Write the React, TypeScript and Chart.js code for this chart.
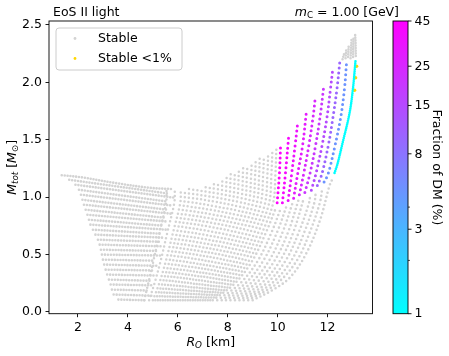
import React, { useEffect, useRef } from "react";
import { Chart, registerables } from "chart.js";

Chart.register(...registerables);

type P = [number, number];

// ---------- axes ----------
const X_MIN = 0.84;
const X_MAX = 13.8;
const Y_MIN = -0.017;
const Y_MAX = 2.534;
const xTicks = [2, 4, 6, 8, 10, 12];
const yTicks = [0, 0.5, 1, 1.5, 2, 2.5];
const cbarTicks = [1, 3, 8, 15, 25, 45];
const cbarMinorTicks = [2, 4];
const CBAR_MAX = 45;

// ---------- left part: rows of configurations (R, M) ----------
const topRow: P[] = [[1.35, 1.19], [2.2, 1.17], [3.56, 1.12], [4.88, 1.08], [5.75, 1.07]];
const rowStartR = [1.65, 1.9, 2.04, 2.12, 2.18, 2.24, 2.31, 2.38, 2.44, 2.5, 2.6, 2.7, 2.8, 2.87, 2.92, 2.96, 3.0, 3.05, 3.11, 3.17, 3.24, 3.31, 3.36, 3.43, 3.62];
const rowStartM = [1.15, 1.107, 1.063, 1.02, 0.976, 0.933, 0.889, 0.846, 0.802, 0.759, 0.715, 0.672, 0.628, 0.585, 0.541, 0.498, 0.454, 0.411, 0.367, 0.324, 0.28, 0.237, 0.193, 0.15, 0.106];
const rowEndR = [5.62, 5.82, 5.6, 5.78, 5.56, 5.71, 5.47, 5.62, 5.39, 5.55, 5.32, 5.47, 5.24, 5.39, 5.16, 5.31, 5.08, 5.23, 5.0, 5.13, 4.9, 5.03, 4.82, 4.95, 4.72];
const rowEndM = [1.03, 0.995, 0.96, 0.925, 0.89, 0.855, 0.82, 0.785, 0.75, 0.715, 0.68, 0.645, 0.61, 0.57, 0.53, 0.49, 0.445, 0.4, 0.36, 0.315, 0.27, 0.23, 0.185, 0.14, 0.1];

// ---------- middle part: gray sequences (high DM fraction) ----------
const grayArcs: P[][] = [
  [[7.3, 0.1], [8.18, 0.25], [8.86, 0.45], [9.4, 0.7], [9.82, 0.95], [9.91, 1.2], [9.95, 1.43]],
  [[7.2, 0.1], [8.05, 0.25], [8.71, 0.45], [9.24, 0.7], [9.66, 0.95], [9.75, 1.2], [9.79, 1.41]],
  [[7.1, 0.1], [7.92, 0.25], [8.57, 0.45], [9.09, 0.7], [9.5, 0.95], [9.59, 1.2], [9.62, 1.38]],
  [[7.0, 0.1], [7.79, 0.25], [8.42, 0.45], [8.93, 0.7], [9.33, 0.95], [9.42, 1.2], [9.45, 1.36]],
  [[6.9, 0.1], [7.67, 0.25], [8.28, 0.45], [8.78, 0.7], [9.17, 0.95], [9.26, 1.2], [9.28, 1.34]],
  [[6.8, 0.1], [7.54, 0.25], [8.13, 0.45], [8.62, 0.7], [9.01, 0.95], [9.1, 1.2], [9.12, 1.32]],
  [[6.7, 0.1], [7.42, 0.25], [7.99, 0.45], [8.47, 0.7], [8.85, 0.95], [8.94, 1.2], [8.96, 1.3]],
  [[6.6, 0.1], [7.29, 0.25], [7.84, 0.45], [8.31, 0.7], [8.69, 0.95], [8.77, 1.2], [8.79, 1.28]],
  [[6.5, 0.1], [7.16, 0.25], [7.7, 0.45], [8.16, 0.7], [8.53, 0.95], [8.62, 1.26]],
  [[6.4, 0.1], [7.03, 0.25], [7.55, 0.45], [8.0, 0.7], [8.36, 0.95], [8.45, 1.24]],
  [[6.3, 0.1], [6.9, 0.25], [7.4, 0.45], [7.85, 0.7], [8.2, 0.95], [8.29, 1.22]],
  [[6.2, 0.1], [6.78, 0.25], [7.26, 0.45], [7.69, 0.7], [8.04, 0.95], [8.12, 1.2]],
  [[6.1, 0.1], [6.66, 0.25], [7.12, 0.45], [7.54, 0.7], [7.88, 0.95], [7.96, 1.18]],
  [[6.0, 0.1], [6.53, 0.25], [6.98, 0.45], [7.38, 0.7], [7.72, 0.95], [7.79, 1.16]],
  [[5.9, 0.1], [6.4, 0.25], [6.84, 0.45], [7.22, 0.7], [7.56, 0.95], [7.62, 1.14]],
  [[5.8, 0.1], [6.27, 0.25], [6.69, 0.45], [7.06, 0.7], [7.39, 0.95], [7.45, 1.12]],
  [[5.7, 0.1], [6.15, 0.25], [6.55, 0.45], [6.9, 0.7], [7.23, 0.95], [7.29, 1.11]],
  [[5.6, 0.1], [6.02, 0.25], [6.4, 0.45], [6.75, 0.7], [7.07, 0.95], [7.12, 1.1]],
  [[5.5, 0.1], [5.89, 0.25], [6.26, 0.45], [6.6, 0.7], [6.91, 0.95], [6.96, 1.09]],
  [[5.4, 0.1], [5.76, 0.25], [6.11, 0.45], [6.44, 0.7], [6.75, 0.95], [6.79, 1.08]],
  [[5.3, 0.1], [5.64, 0.25], [5.97, 0.45], [6.29, 0.7], [6.59, 0.95], [6.62, 1.075]],
  [[5.2, 0.1], [5.51, 0.25], [5.82, 0.45], [6.13, 0.7], [6.42, 0.95], [6.45, 1.07]],
  [[5.1, 0.1], [5.39, 0.25], [5.68, 0.45], [5.98, 0.7], [6.26, 0.95], [6.29, 1.065]],
  [[5.0, 0.1], [5.26, 0.25], [5.53, 0.45], [5.82, 0.7], [6.1, 0.95], [6.12, 1.06]],
  [[4.85, 0.1], [5.07, 0.25], [5.32, 0.45], [5.59, 0.7], [5.86, 0.95], [5.88, 1.06]],
  [[4.65, 0.1], [4.82, 0.25], [5.03, 0.45], [5.28, 0.7], [5.53, 0.95], [5.55, 1.07]],
];

// ---------- right part: sequences with DM fraction (%) ----------
const dmFractions = [45, 40, 35, 30, 25, 20, 15, 10, 5, 1];
const arcLowerParts: P[][] = [
  [[7.4, 0.1], [8.3, 0.25], [9.0, 0.45], [9.55, 0.7], [9.92, 0.9]],
  [[7.58, 0.1], [8.51, 0.25], [9.22, 0.45], [9.77, 0.7], [10.14, 0.91]],
  [[7.76, 0.1], [8.72, 0.25], [9.44, 0.45], [9.99, 0.7], [10.37, 0.93]],
  [[7.93, 0.1], [8.93, 0.25], [9.67, 0.45], [10.21, 0.7], [10.6, 0.95]],
  [[8.11, 0.1], [9.14, 0.25], [9.89, 0.45], [10.43, 0.7], [10.83, 0.97]],
  [[8.29, 0.1], [9.36, 0.25], [10.11, 0.45], [10.64, 0.7], [11.05, 0.99]],
  [[8.47, 0.1], [9.57, 0.25], [10.33, 0.45], [10.86, 0.7], [11.26, 0.95], [11.3, 1.01]],
  [[8.64, 0.1], [9.78, 0.25], [10.56, 0.45], [11.08, 0.7], [11.47, 0.95], [11.53, 1.05]],
  [[8.82, 0.1], [9.99, 0.25], [10.78, 0.45], [11.3, 0.7], [11.69, 0.95], [11.79, 1.08]],
  [[9.0, 0.1], [9.8, 0.19], [10.5, 0.3], [11.15, 0.51], [11.7, 0.8], [12.08, 1.1], [12.2, 1.16]],
];
const arcColorParts: P[][] = [
  [[9.98, 0.95], [10.07, 1.2], [10.12, 1.46]],
  [[10.19, 0.95], [10.31, 1.2], [10.45, 1.55]],
  [[10.42, 0.97], [10.56, 1.2], [10.7, 1.45], [10.8, 1.64]],
  [[10.64, 0.99], [10.8, 1.2], [11.0, 1.45], [11.15, 1.74]],
  [[10.87, 1.02], [11.04, 1.2], [11.25, 1.45], [11.42, 1.7], [11.5, 1.85]],
  [[11.09, 1.04], [11.29, 1.2], [11.52, 1.45], [11.7, 1.7], [11.85, 1.97]],
  [[11.35, 1.06], [11.53, 1.2], [11.78, 1.45], [11.98, 1.7], [12.12, 1.95], [12.2, 2.1]],
  [[11.59, 1.1], [11.77, 1.2], [12.03, 1.45], [12.22, 1.7], [12.38, 1.95], [12.5, 2.2]],
  [[11.86, 1.13], [12.02, 1.2], [12.3, 1.45], [12.53, 1.7], [12.68, 1.95], [12.76, 2.17]],
  [[12.28, 1.21], [12.4, 1.29], [12.6, 1.47], [12.88, 1.73], [13.02, 1.95], [13.12, 2.19]],
];
const tipParts: P[][] = [
  [[12.6, 2.2], [12.68, 2.26]],
  [[12.72, 2.21], [12.75, 2.29]],
  [[12.82, 2.22], [12.85, 2.33]],
  [[12.92, 2.21], [12.96, 2.37]],
  [[13.02, 2.22], [13.04, 2.4]],
  [[13.13, 2.23], [13.12, 2.35], [13.1, 2.43]],
];
const stableLowDM: P[] = [[13.16, 2.14], [13.12, 2.04], [13.08, 1.93]];

// ---------- style ----------
const FONT = "DejaVu Sans";
const FS = 12.5;
const GRAY = "#d3d3d3";
const GOLD = "#ffd700";

function coolColor(f: number): string {
  const t = Math.log(f) / Math.log(CBAR_MAX);
  return `rgb(${Math.round(255 * t)},${Math.round(255 * (1 - t))},255)`;
}

type Run = { t: string; f: string; dy?: number };
function runsWidth(ctx: CanvasRenderingContext2D, runs: Run[]) {
  let w = 0;
  for (const r of runs) {
    ctx.font = r.f;
    w += ctx.measureText(r.t).width;
  }
  return w;
}
function drawRuns(ctx: CanvasRenderingContext2D, runs: Run[], x: number, y: number) {
  let cx = x;
  for (const r of runs) {
    ctx.font = r.f;
    ctx.fillText(r.t, cx, y + (r.dy || 0));
    cx += ctx.measureText(r.t).width;
  }
}

const REG = `${FS}px "${FONT}"`;
const ITA = `italic ${FS}px "${FONT}"`;
const SUB = `${FS * 0.7}px "${FONT}"`;
const SUBI = `italic ${FS * 0.7}px "${FONT}"`;

export default function App() {
  const ref = useRef<HTMLCanvasElement>(null);

  useEffect(() => {
    const canvas = ref.current!;
    const dotted = (pts: P[], color: string, width: number, gap: number) => ({
      data: pts.map(([x, y]) => ({ x, y })),
      showLine: true,
      borderColor: color,
      backgroundColor: color,
      borderWidth: width,
      borderDash: [0, gap],
      borderCapStyle: "round",
      borderJoinStyle: "round",
      pointRadius: 0,
      pointHoverRadius: 0,
      pointHitRadius: 0,
      tension: 0.35,
      fill: false,
    });

    const datasets: any[] = [];
    rowStartR.forEach((r, i) => {
      datasets.push(dotted([[r, rowStartM[i]], [rowEndR[i], rowEndM[i]]], GRAY, 2.6, 2.9));
    });
    datasets.push(dotted(topRow, GRAY, 2.6, 2.9));
    grayArcs.forEach((a) => datasets.push(dotted(a, GRAY, 2.5, 4.3)));
    arcLowerParts.forEach((a) => datasets.push(dotted(a, GRAY, 2.6, 4.3)));
    tipParts.forEach((a) => datasets.push(dotted(a, GRAY, 2.6, 2.6)));
    arcColorParts.forEach((a, i) => {
      const f = dmFractions[i];
      datasets.push(dotted(a, coolColor(f), f <= 1 ? 2.6 : 3.0, f <= 1 ? 2.0 : 5.0));
    });
    datasets.push({
      data: stableLowDM.map(([x, y]) => ({ x, y })),
      showLine: false,
      pointRadius: 1.8,
      pointBorderWidth: 0,
      backgroundColor: GOLD,
      borderColor: GOLD,
    });

    const decor = {
      id: "decor",
      afterDraw(chart: any) {
        const ctx: CanvasRenderingContext2D = chart.ctx;
        const a = chart.chartArea;
        ctx.save();
        ctx.strokeStyle = "#000";
        ctx.lineWidth = 0.9;
        ctx.strokeRect(a.left, a.top, a.right - a.left, a.bottom - a.top);

        ctx.fillStyle = "#000";
        ctx.textBaseline = "alphabetic";
        ctx.textAlign = "left";
        ctx.font = REG;
        ctx.fillText("EoS II light", 53, 16);
        const rt: Run[] = [
          { t: "m", f: ITA },
          { t: "C", f: SUB, dy: 2.2 },
          { t: " = 1.00", f: REG },
          { t: " [GeV]", f: REG },
        ];
        drawRuns(ctx, rt, 399 - runsWidth(ctx, rt), 16);

        const xl: Run[] = [
          { t: "R", f: ITA },
          { t: "O", f: SUBI, dy: 2.2 },
          { t: " [km]", f: REG },
        ];
        const cx = (a.left + a.right) / 2;
        drawRuns(ctx, xl, cx - runsWidth(ctx, xl) / 2, 346);

        const yl: Run[] = [
          { t: "M", f: ITA },
          { t: "tot", f: SUBI, dy: 2.2 },
          { t: " [", f: REG },
          { t: "M", f: ITA },
          { t: "\u2299", f: SUB, dy: 2.2 },
          { t: "]", f: REG },
        ];
        const cy = (a.top + a.bottom) / 2;
        ctx.save();
        ctx.translate(16, cy);
        ctx.rotate(-Math.PI / 2);
        drawRuns(ctx, yl, -runsWidth(ctx, yl) / 2, 0);
        ctx.restore();

        // colorbar
        const cbL = 393, cbR = 408, cbT = a.top, cbB = a.bottom;
        const grad = ctx.createLinearGradient(0, cbB, 0, cbT);
        grad.addColorStop(0, "rgb(0,255,255)");
        grad.addColorStop(1, "rgb(255,0,255)");
        ctx.fillStyle = grad;
        ctx.fillRect(cbL, cbT, cbR - cbL, cbB - cbT);
        ctx.strokeStyle = "#000";
        ctx.lineWidth = 0.9;
        ctx.strokeRect(cbL, cbT, cbR - cbL, cbB - cbT);
        const cbY = (v: number) => cbB - (Math.log(v) / Math.log(CBAR_MAX)) * (cbB - cbT);
        ctx.fillStyle = "#000";
        ctx.font = REG;
        ctx.textBaseline = "middle";
        cbarTicks.forEach((v) => {
          const y = cbY(v);
          ctx.beginPath();
          ctx.moveTo(cbR, y);
          ctx.lineTo(cbR + 3.5, y);
          ctx.stroke();
          ctx.fillText(String(v), cbR + 6.5, y + 0.5);
        });
        ctx.lineWidth = 0.7;
        cbarMinorTicks.forEach((v) => {
          const y = cbY(v);
          ctx.beginPath();
          ctx.moveTo(cbR, y);
          ctx.lineTo(cbR + 2, y);
          ctx.stroke();
        });
        ctx.save();
        ctx.translate(433, cy);
        ctx.rotate(Math.PI / 2);
        ctx.textAlign = "center";
        ctx.textBaseline = "alphabetic";
        ctx.font = REG;
        ctx.fillText("Fraction of DM (%)", 0, 0);
        ctx.restore();

        // legend
        const lx = 56, ly = 28, lw = 126, lh = 42, rr = 3;
        ctx.beginPath();
        ctx.moveTo(lx + rr, ly);
        ctx.lineTo(lx + lw - rr, ly);
        ctx.quadraticCurveTo(lx + lw, ly, lx + lw, ly + rr);
        ctx.lineTo(lx + lw, ly + lh - rr);
        ctx.quadraticCurveTo(lx + lw, ly + lh, lx + lw - rr, ly + lh);
        ctx.lineTo(lx + rr, ly + lh);
        ctx.quadraticCurveTo(lx, ly + lh, lx, ly + lh - rr);
        ctx.lineTo(lx, ly + rr);
        ctx.quadraticCurveTo(lx, ly, lx + rr, ly);
        ctx.closePath();
        ctx.fillStyle = "rgba(255,255,255,0.8)";
        ctx.fill();
        ctx.strokeStyle = "#cccccc";
        ctx.lineWidth = 1;
        ctx.stroke();
        ctx.fillStyle = GRAY;
        ctx.beginPath();
        ctx.arc(75, 38.5, 1.4, 0, Math.PI * 2);
        ctx.fill();
        ctx.fillStyle = GOLD;
        ctx.beginPath();
        ctx.arc(75, 58.5, 1.4, 0, Math.PI * 2);
        ctx.fill();
        ctx.fillStyle = "#000";
        ctx.font = REG;
        ctx.textAlign = "left";
        ctx.textBaseline = "middle";
        ctx.fillText("Stable", 98, 38.5);
        ctx.fillText("Stable <1%", 98, 58.5);
        ctx.restore();
      },
    };

    const tickFont = { family: FONT, size: FS };
    const chart = new Chart(canvas, {
      type: "scatter",
      data: { datasets },
      options: {
        responsive: false,
        devicePixelRatio: 1,
        animation: false,
        events: [],
        layout: { padding: { left: 0, top: 21, right: 76.5, bottom: 0 } },
        plugins: { legend: { display: false }, tooltip: { enabled: false } },
        scales: {
          x: {
            type: "linear",
            min: X_MIN,
            max: X_MAX,
            afterBuildTicks: (s: any) => {
              s.ticks = xTicks.map((v) => ({ value: v }));
            },
            afterFit: (s: any) => {
              s.height = 42.3;
            },
            border: { display: false },
            grid: { drawOnChartArea: false, drawTicks: true, tickLength: 3.5, color: "#000", lineWidth: 0.9 },
            ticks: {
              font: tickFont,
              color: "#000",
              padding: 3.5,
              maxRotation: 0,
              autoSkip: false,
              callback: (v: any) => String(v),
            },
          },
          y: {
            type: "linear",
            min: Y_MIN,
            max: Y_MAX,
            afterBuildTicks: (s: any) => {
              s.ticks = yTicks.map((v) => ({ value: v }));
            },
            afterFit: (s: any) => {
              s.width = 49;
            },
            border: { display: false },
            grid: { drawOnChartArea: false, drawTicks: true, tickLength: 3.5, color: "#000", lineWidth: 0.9 },
            ticks: {
              font: tickFont,
              color: "#000",
              padding: 3.5,
              autoSkip: false,
              callback: (v: any) => Number(v).toFixed(1),
            },
          },
        },
      } as any,
      plugins: [decor],
    });
    return () => chart.destroy();
  }, []);

  return (
    <div style={{ position: "fixed", left: 0, top: 0, width: 449, height: 356, background: "#fff" }}>
      <canvas ref={ref} width={449} height={356} style={{ display: "block" }} />
    </div>
  );
}
